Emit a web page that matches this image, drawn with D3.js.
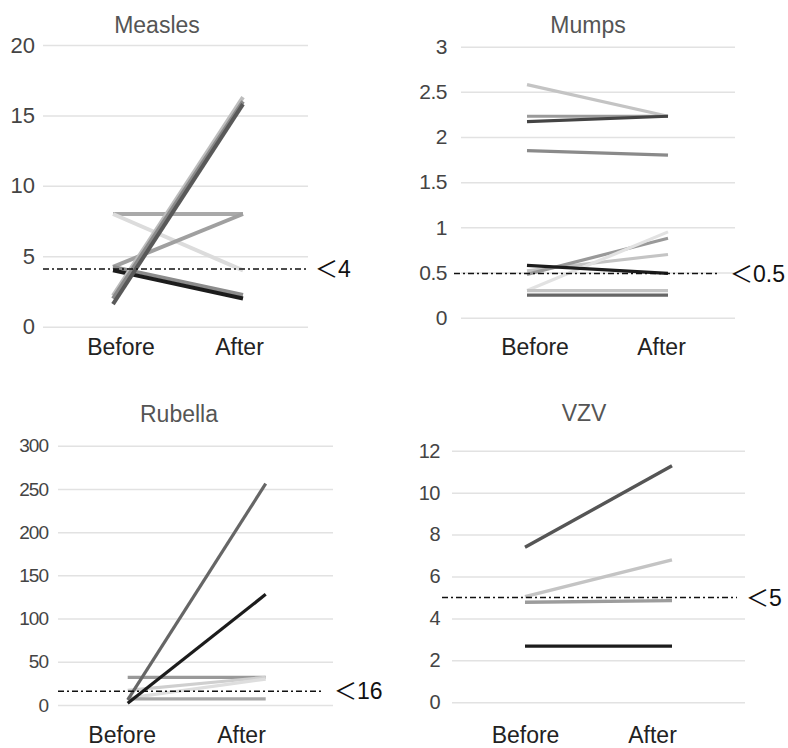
<!DOCTYPE html>
<html>
<head>
<meta charset="utf-8">
<script src="https://cdn.jsdelivr.net/npm/d3@7"></script>
<style>
  body { margin: 0; background: #fff; }
  svg { display: block; font-family: "Liberation Sans", Arial, "Noto Sans CJK JP", sans-serif; }
</style>
</head>
<body>
<svg id="chart" width="788" height="748"></svg>
<script>
// categories
const phases = ['Before', 'After'];

// each row = one subject, [before, after]
const measles = [[8, 8], [8, 4], [4.25, 8], [4.25, 2.25], [4.0, 2.0], [2.2, 16.3], [2.0, 16.0], [1.6, 15.8]];
const mumps = [[2.58, 2.23], [2.23, 2.23], [2.17, 2.23], [1.85, 1.80], [0.52, 0.70], [0.48, 0.88], [0.30, 0.95], [0.58, 0.49], [0.30, 0.30], [0.25, 0.25]];
const rubella = [[32, 32], [17, 32], [8, 30], [7, 7], [6, 256], [2, 128]];
const vzv = [[7.39, 11.28], [5.04, 6.79], [4.77, 4.85], [2.68, 2.68]];

// cut-off values and their labels
const cutoffs = [4.1, 0.49, 16, 5];
const cutLabels = ['＜4', '＜0.5', '＜16', '＜5'];

// y tick values
const measlesTicks = [0, 5, 10, 15, 20];
const mumpsTicks = [0, 0.5, 1, 1.5, 2, 2.5, 3];
const rubellaTicks = [0, 50, 100, 150, 200, 250, 300];
const vzvTicks = [0, 2, 4, 6, 8, 10, 12];

// line greys (style)
const measlesColors = ['#a9a9a9', '#dcdcdc', '#a0a0a0', '#8c8c8c', '#1c1c1c', '#bdbdbd', '#8a8a8a', '#595959'];
const mumpsColors = ['#c4c4c4', '#9a9a9a', '#444', '#8a8a8a', '#c4c4c4', '#999', '#e2e2e2', '#1c1c1c', '#c4c4c4', '#666'];
const rubellaColors = ['#999', '#cfcfcf', '#dedede', '#a8a8a8', '#666', '#1c1c1c'];
const vzvColors = ['#555', '#c4c4c4', '#9c9c9c', '#1c1c1c'];

const panels = [
  { title: 'Measles', data: measles, colors: measlesColors, ticks: measlesTicks, max: 20, cut: cutoffs[0], cutLabel: cutLabels[0],
    y0: 326.7, y1: 45, grid: [43, 308], line: [113, 243], lab: [120.5, 239], titleX: 157, titleY: 33, xLabY: 355,
    cutX: [43, 307], cutLabX: 315, tickFont: 22, tickSp: 0, tickPad: 8, lw: 4 },
  { title: 'Mumps', data: mumps, colors: mumpsColors, ticks: mumpsTicks, max: 3, cut: cutoffs[1], cutLabel: cutLabels[1],
    y0: 317.7, y1: 46.7, grid: [461, 735], line: [527, 668], lab: [534.5, 661], titleX: 588, titleY: 33, xLabY: 355,
    cutX: [454, 717], cutLabX: 730, tickFont: 21, tickSp: -0.5, tickPad: 14, lw: 3.2 },
  { title: 'Rubella', data: rubella, colors: rubellaColors, ticks: rubellaTicks, max: 300, cut: cutoffs[2], cutLabel: cutLabels[2],
    y0: 705, y1: 445.7, grid: [58, 333], line: [127.7, 265.7], lab: [121.7, 241], titleX: 179, titleY: 421.5, xLabY: 743,
    cutX: [58, 321], cutLabX: 334, tickFont: 19, tickSp: -1, tickPad: 10, lw: 3.2 },
  { title: 'VZV', data: vzv, colors: vzvColors, ticks: vzvTicks, max: 12, cut: cutoffs[3], cutLabel: cutLabels[3],
    y0: 702.3, y1: 450.7, grid: [452, 745], line: [525, 672], lab: [525, 652], titleX: 584, titleY: 421, xLabY: 743,
    cutX: [442, 737], cutLabX: 746, tickFont: 20, tickSp: -0.5, tickPad: 12, lw: 3.4 }
];

const svg = d3.select('#chart');

panels.forEach(p => {
  const g = svg.append('g');
  const y = d3.scaleLinear().domain([0, p.max]).range([p.y0, p.y1]);
  const x = d3.scalePoint().domain(phases).range(p.line);
  const xl = d3.scalePoint().domain(phases).range(p.lab);

  // y axis with gridlines
  const ya = g.append('g').attr('transform', `translate(${p.grid[0]},0)`)
    .call(d3.axisLeft(y).tickValues(p.ticks).tickFormat(d3.format('')).tickSize(-(p.grid[1] - p.grid[0])).tickPadding(p.tickPad));
  ya.select('.domain').remove();
  ya.selectAll('line').attr('stroke', '#e2e2e2').attr('stroke-width', 1.5);
  ya.selectAll('text').attr('fill', '#444').attr('font-size', p.tickFont).attr('letter-spacing', p.tickSp);

  // x labels
  const xa = g.append('g').attr('transform', `translate(0,${p.xLabY})`)
    .call(d3.axisBottom(xl).tickSize(0).tickPadding(0));
  xa.select('.domain').remove();
  xa.selectAll('text').attr('dy', 0).attr('fill', '#222').attr('font-size', 23);

  // title
  g.append('text').attr('x', p.titleX).attr('y', p.titleY).attr('text-anchor', 'middle')
    .attr('fill', '#555').attr('font-size', 23).text(p.title);

  // subject lines
  const line = d3.line().x((d, i) => x(phases[i])).y(d => y(d));
  g.append('g').selectAll('path').data(p.data).join('path')
    .attr('d', d => line(d)).attr('fill', 'none')
    .attr('stroke', (d, i) => p.colors[i]).attr('stroke-width', p.lw).attr('stroke-linecap', 'butt');

  // cut-off line
  g.append('line').attr('x1', p.cutX[0]).attr('x2', p.cutX[1]).attr('y1', y(p.cut)).attr('y2', y(p.cut))
    .attr('stroke', '#111').attr('stroke-width', 1.5).attr('stroke-dasharray', '6,3,2,3');
  g.append('text').attr('x', p.cutLabX).attr('y', y(p.cut)).attr('dy', '0.36em')
    .attr('fill', '#111').attr('font-size', 23).text(p.cutLabel);
});
</script>
</body>
</html>
